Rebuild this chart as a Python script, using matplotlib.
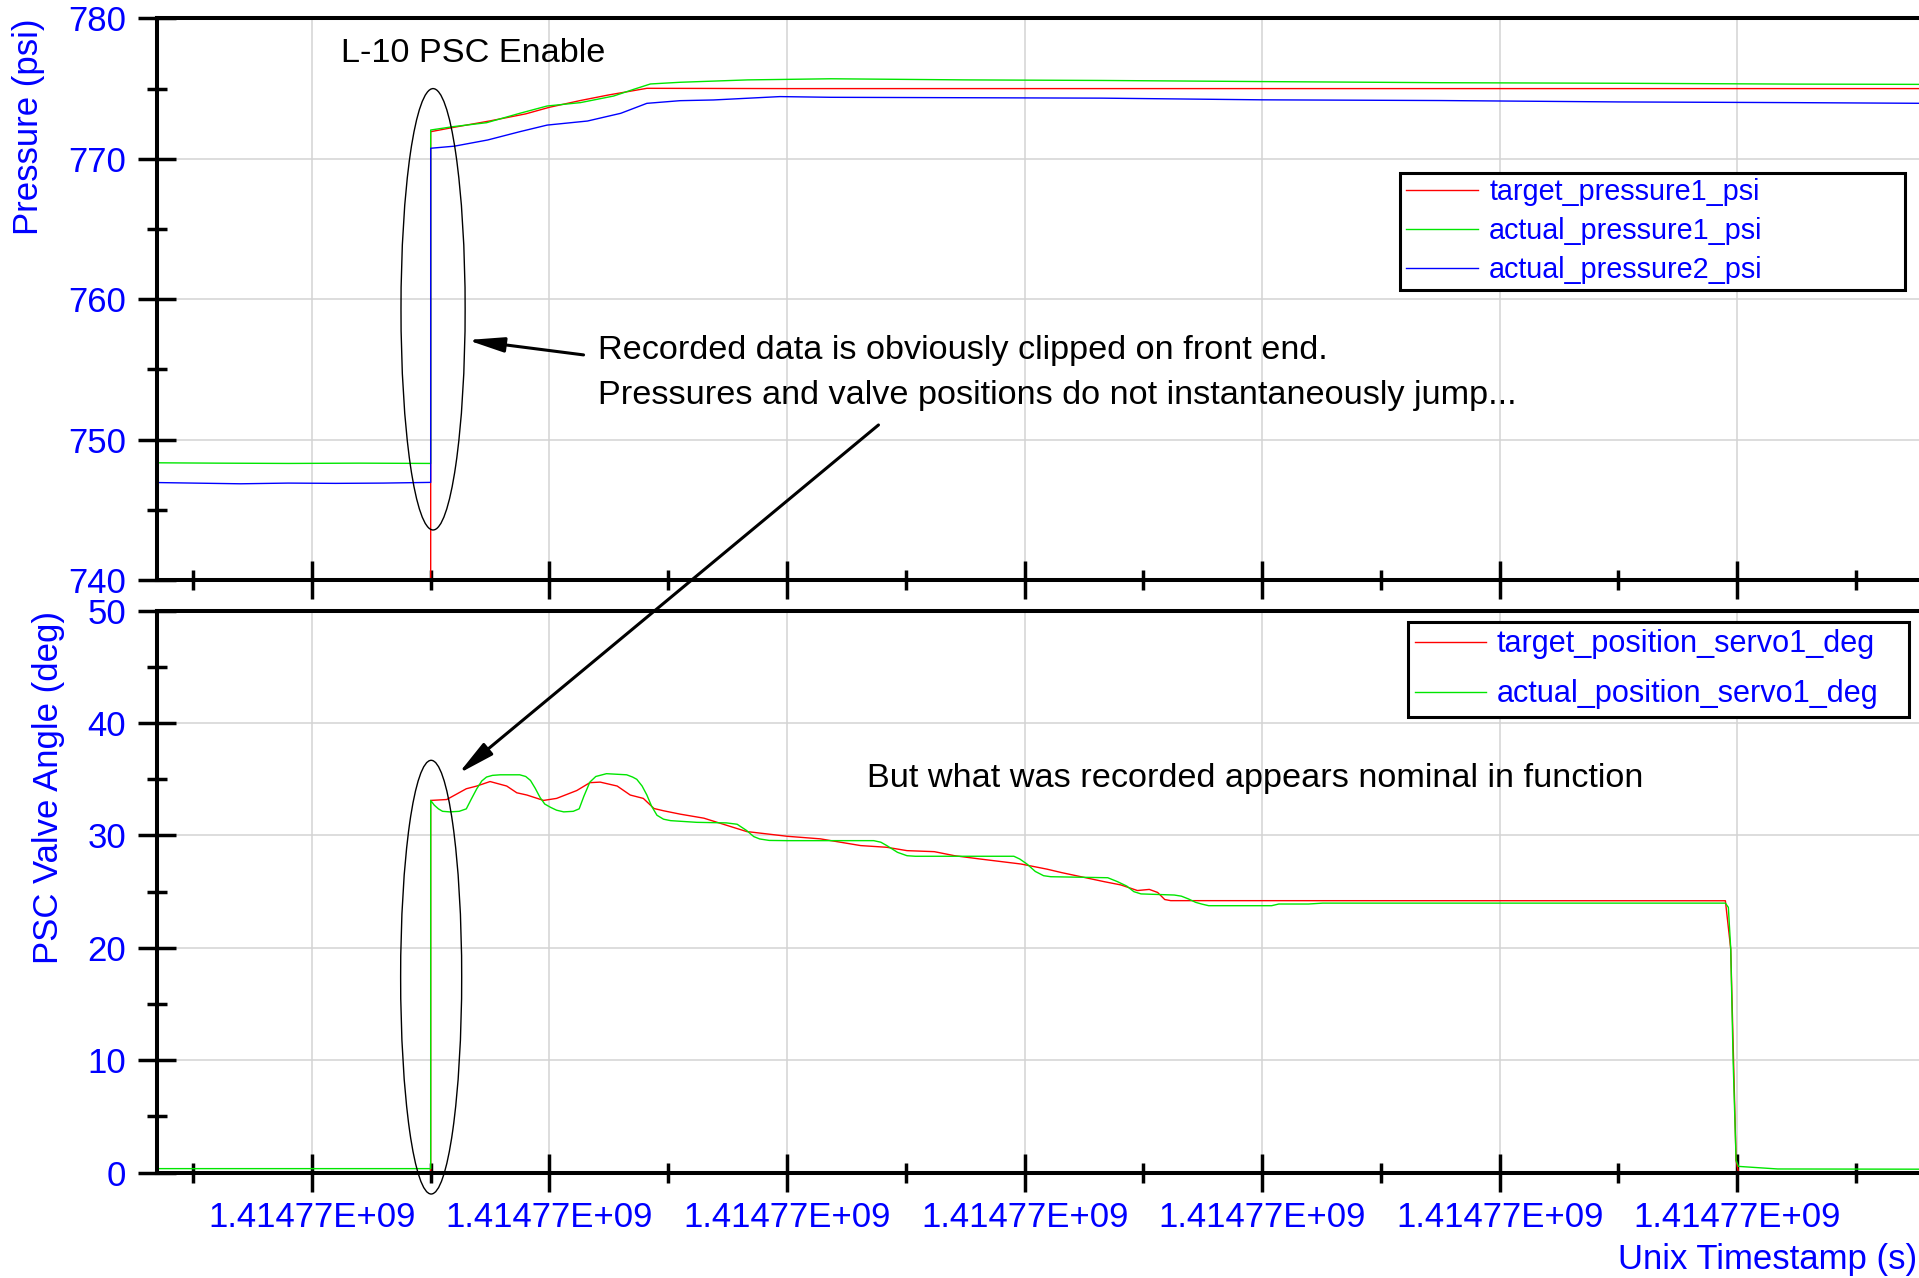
import matplotlib
matplotlib.use("Agg")
from matplotlib import pyplot as plt
from matplotlib.patches import Ellipse, ConnectionPatch
from matplotlib.ticker import MultipleLocator, FormatStrFormatter
import numpy as np

plt.rcParams["font.family"] = ["Liberation Sans", "DejaVu Sans"]

BLUE = "#0000ff"
RED = "#ff0000"
GREEN = "#00e600"

# unix timestamp of the first labelled tick; series times are offsets in seconds
T_BASE = 1414770040

# --- pressure panel ---
t_target_p1 = [-14, 10, 10, 12, 15, 18, 20, 22.6, 25, 28.2, 40, 60, 80, 100, 120, 136]
target_p1 = [0, 0, 771.93, 772.25, 772.7, 773.2, 773.67, 774.15, 774.55, 775.02,
             775.0, 775.0, 775.0, 775.0, 775.0, 775.0]

t_actual_p1 = [-14, -8, -2, 4, 10, 10, 11.9, 14.7, 17.5, 19.8, 22.6, 25.4, 27.1, 28.5,
               31, 36.7, 43.7, 55, 66.5, 80, 95, 110, 125, 136]
actual_p1 = [748.35, 748.32, 748.3, 748.32, 748.3, 772.05, 772.29, 772.57, 773.24,
             773.76, 774.0, 774.47, 774.95, 775.33, 775.45, 775.62, 775.7, 775.62,
             775.58, 775.5, 775.42, 775.38, 775.32, 775.3]

t_actual_p2 = [-14, -10, -6, -2, 2, 6, 10, 10, 12, 14.8, 17.5, 19.8, 23.2, 26, 28.2,
               31, 33.8, 39.4, 43.7, 55, 66.5, 80, 95, 110, 125, 136]
actual_p2 = [746.95, 746.9, 746.85, 746.9, 746.88, 746.9, 746.95, 770.75, 770.9,
             771.34, 771.93, 772.4, 772.69, 773.24, 773.95, 774.14, 774.19, 774.43,
             774.38, 774.35, 774.32, 774.2, 774.15, 774.05, 774.0, 773.95]

# --- valve angle panel ---
t_target_s1 = [-14, 10, 10, 11.35, 13.0, 13.88, 15.0, 16.4, 17.25, 18.1, 19.5, 20.6,
               22.3, 23.4, 24.27, 25.7, 26.8, 27.9, 28.8, 29.6, 31.0, 33.0, 36.6,
               40.0, 42.8, 46.2, 48.4, 50.1, 52.4, 54.1, 56.3, 59.7, 61.9, 63.1,
               66.7, 68.1, 69.5, 70.5, 71.2, 71.8, 72.3, 119.0, 119.45, 119.9,
               120.1, 136]
target_s1 = [0, 0, 33.12, 33.2, 34.16, 34.4, 34.8, 34.4, 33.8, 33.6, 33.12, 33.3,
             34.0, 34.7, 34.75, 34.4, 33.6, 33.3, 32.4, 32.2, 31.9, 31.54, 30.35,
             29.93, 29.7, 29.1, 28.95, 28.65, 28.56, 28.2, 27.9, 27.46, 27.0, 26.7,
             25.89, 25.6, 25.1, 25.2, 24.93, 24.3, 24.2, 24.19, 19.9, 1.1, 0, 0]

t_actual_s1 = [-14, 10, 10, 10.3, 10.65, 11.0, 11.6, 12.4, 13.0, 13.4, 13.88, 14.3,
               14.7, 15.2, 15.85, 17.5, 18.0, 18.4, 18.8, 19.2, 19.6, 20.1, 20.6,
               21.2, 22.0, 22.5, 22.9, 23.4, 23.9, 24.8, 26.5, 27.0, 27.35, 27.8,
               28.2, 28.6, 29.05, 29.6, 30.2, 32.4, 34.9, 35.8, 36.6, 37.2, 37.7,
               38.5, 40.0, 47.3, 47.9, 48.4, 49.3, 50.1, 50.8, 59.1, 59.6, 60.2,
               60.9, 61.6, 62.2, 67.0, 67.8, 68.6, 69.2, 69.8, 72.6, 73.2, 73.8,
               74.4, 74.9, 75.5, 80.8, 81.4, 83.9, 85.1, 119.0, 119.25, 119.45,
               119.65, 119.9, 120.1, 123.4, 136]
actual_s1 = [0.35, 0.35, 33.12, 32.7, 32.37, 32.15, 32.1, 32.15, 32.37, 33.2, 34.16,
             34.85, 35.2, 35.35, 35.4, 35.4, 35.25, 34.9, 34.2, 33.4, 32.8, 32.5,
             32.25, 32.1, 32.15, 32.37, 33.5, 34.75, 35.25, 35.5, 35.4, 35.2, 35.0,
             34.4, 33.6, 32.6, 31.8, 31.45, 31.32, 31.17, 31.12, 31.0, 30.44, 29.9,
             29.69, 29.56, 29.54, 29.54, 29.4, 29.1, 28.5, 28.2, 28.15, 28.15, 27.9,
             27.46, 26.8, 26.42, 26.33, 26.24, 25.9, 25.5, 25.0, 24.8, 24.7, 24.6,
             24.35, 24.05, 23.9, 23.75, 23.75, 23.9, 23.9, 23.98, 23.98, 23.6, 19.9,
             10.0, 1.1, 0.55, 0.32, 0.3]

x_window = (-13.06, 135.3)


def ts(offsets):
    return T_BASE + np.asarray(offsets, dtype=float)


def style_axes(ax, ylim, ymajor, yminor, show_xlabels):
    ax.set_xlim(ts(x_window))
    ax.set_ylim(*ylim)
    ax.xaxis.set_major_locator(MultipleLocator(20))
    ax.xaxis.set_minor_locator(MultipleLocator(10))
    ax.yaxis.set_major_locator(MultipleLocator(ymajor))
    ax.yaxis.set_minor_locator(MultipleLocator(yminor))
    ax.xaxis.set_major_formatter(FormatStrFormatter("%.5E"))
    ax.tick_params(which="major", direction="inout", length=28, width=2.5,
                   labelcolor=BLUE, labelsize=25)
    ax.tick_params(which="minor", direction="inout", length=14, width=2.5)
    ax.tick_params(axis="y", which="major", pad=8)
    ax.tick_params(axis="x", which="major", pad=6.5, labelbottom=show_xlabels)
    for side in ("left", "bottom", "top"):
        ax.spines[side].set_linewidth(2.9)
    ax.spines["right"].set_visible(False)
    ax.grid(True, which="major", color="#d3d3d3", lw=1.1)


fig = plt.figure(figsize=(19.19, 12.78), dpi=100)
ax1 = fig.add_axes([0.0817, 0.5462, 0.9183, 0.4394])
ax2 = fig.add_axes([0.0817, 0.0825, 0.9183, 0.4396])

ax1.plot(ts(t_target_p1), target_p1, color=RED, lw=1.0, label="target_pressure1_psi")
ax1.plot(ts(t_actual_p1), actual_p1, color=GREEN, lw=1.0, label="actual_pressure1_psi")
ax1.plot(ts(t_actual_p2), actual_p2, color=BLUE, lw=1.0, label="actual_pressure2_psi")
style_axes(ax1, (740, 780), 10, 5, False)

ax2.plot(ts(t_target_s1), target_s1, color=RED, lw=1.0, label="target_position_servo1_deg")
ax2.plot(ts(t_actual_s1), actual_s1, color=GREEN, lw=1.0, label="actual_position_servo1_deg")
style_axes(ax2, (0, 50), 10, 5, True)

ax1.set_ylabel("Pressure (psi)", color=BLUE, fontsize=25, loc="top")
ax1.yaxis.set_label_coords(-0.0727, 1.0)
ax1.yaxis.label.set_va("center")
ax2.set_ylabel("PSC Valve Angle (deg)", color=BLUE, fontsize=25, loc="top")
ax2.yaxis.set_label_coords(-0.0612, 1.0)
ax2.yaxis.label.set_va("center")
ax2.set_xlabel("Unix Timestamp (s)", color=BLUE, fontsize=25, loc="right")
ax2.xaxis.set_label_coords(0.999, -0.155)
ax2.xaxis.label.set_va("center")

leg1 = ax1.legend(loc="upper left", bbox_to_anchor=(0.7055, 0.5184, 0.2863, 0.207),
                  mode="expand", borderaxespad=0, fontsize=20.7, handlelength=2.5,
                  handletextpad=0.4, labelspacing=0.38, borderpad=0.2,
                  fancybox=False, edgecolor="black", framealpha=1, labelcolor=BLUE)
leg1.get_frame().set_linewidth(2.2)
leg2 = ax2.legend(loc="upper left", bbox_to_anchor=(0.7098, 0.8084, 0.2845, 0.172),
                  mode="expand", borderaxespad=0, fontsize=22.1, handlelength=2.3,
                  handletextpad=0.35, labelspacing=0.65, borderpad=0.25,
                  fancybox=False, edgecolor="black", framealpha=1, labelcolor=BLUE)
leg2.get_frame().set_linewidth(2.2)

# annotations
ax1.add_patch(Ellipse((T_BASE + 10.2, 759.28), 5.4, 31.44, fill=False,
                      ec="black", lw=1.0, clip_on=False, zorder=5))
ax2.add_patch(Ellipse((T_BASE + 10.04, 17.39), 5.14, 38.6, fill=False,
                      ec="black", lw=1.0, clip_on=False, zorder=5))

ax1.text(T_BASE + 2.48, 777.5, "L-10 PSC Enable", fontsize=24.7, va="center")
ax1.text(T_BASE + 24.05, 756.38, "Recorded data is obviously clipped on front end.",
         fontsize=24.7, va="center")
ax1.text(T_BASE + 24.05, 753.15,
         "Pressures and valve positions do not instantaneously jump...",
         fontsize=24.7, va="center")
ax2.text(T_BASE + 46.75, 35.1, "But what was recorded appears nominal in function",
         fontsize=24.7, va="center")

ax1.annotate("", xy=(T_BASE + 13.09, 757.09), xytext=(T_BASE + 22.87, 756.03),
             arrowprops=dict(arrowstyle="-|>,head_length=2.2,head_width=0.45",
                             color="black", lw=2.2, shrinkA=0, shrinkB=0,
                             mutation_scale=10))
con = ConnectionPatch(xyA=(T_BASE + 47.7, 751.04), coordsA=ax1.transData,
                      xyB=(T_BASE + 12.33, 35.5), coordsB=ax2.transData,
                      arrowstyle="-|>,head_length=2.2,head_width=0.45",
                      mutation_scale=10, color="black", lw=2.2,
                      shrinkA=0, shrinkB=0, zorder=6)
fig.add_artist(con)

fig.savefig("out.png", dpi=100)
